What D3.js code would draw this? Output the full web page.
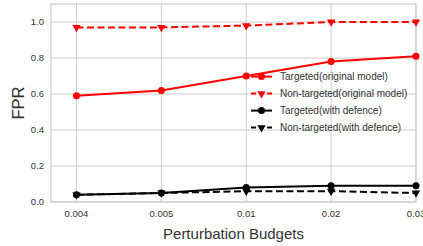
<!DOCTYPE html>
<html>
<head>
<meta charset="utf-8">
<script src="https://cdn.jsdelivr.net/npm/d3@7"></script>
<style>
  html, body { margin: 0; padding: 0; background: #fff; }
  text { font-family: "Liberation Sans", Arial, sans-serif; }
</style>
</head>
<body>
<script>
const budgets = ['0.004', '0.005', '0.01', '0.02', '0.03'];
const yTicks = [0.0, 0.2, 0.4, 0.6, 0.8, 1.0];

const targetedOriginal = [0.59, 0.62, 0.70, 0.78, 0.81];
const nonTargetedOriginal = [0.97, 0.97, 0.98, 1.0, 1.0];
const targetedDefence = [0.04, 0.05, 0.08, 0.09, 0.09];
const nonTargetedDefence = [0.04, 0.05, 0.06, 0.06, 0.05];

const seriesNames = [
  'Targeted(original model)',
  'Non-targeted(original model)',
  'Targeted(with defence)',
  'Non-targeted(with defence)'
];

let series = [
  { name: seriesNames[0], values: targetedOriginal, color: '#ff0000', dash: null, marker: 'circle' },
  { name: seriesNames[1], values: nonTargetedOriginal, color: '#ff0000', dash: '7,3.5', marker: 'tri' },
  { name: seriesNames[2], values: targetedDefence, color: '#000000', dash: null, marker: 'circle' },
  { name: seriesNames[3], values: nonTargetedDefence, color: '#000000', dash: '7,3.5', marker: 'tri' }
];

let width = 423;
let height = 246;
let margin = { left: 51, right: 7, top: 4, bottom: 44 };

let svg = d3.select('body')
  .append('svg')
  .attr('width', width)
  .attr('height', height);

// index based x scale, matplotlib-like limits
let x = d3.scaleLinear()
  .domain([-0.3, 4])
  .range([margin.left, width - margin.right]);

let y = d3.scaleLinear()
  .domain([0, 1.1])
  .range([height - margin.bottom, margin.top]);

// grid
svg.append('g')
  .selectAll('line')
  .data(yTicks)
  .enter()
  .append('line')
  .attr('x1', margin.left)
  .attr('x2', width - margin.right)
  .attr('y1', d => y(d))
  .attr('y2', d => y(d))
  .attr('stroke', '#cccccc')
  .attr('stroke-width', 1);

svg.append('g')
  .selectAll('line')
  .data(budgets)
  .enter()
  .append('line')
  .attr('x1', (d, i) => x(i))
  .attr('x2', (d, i) => x(i))
  .attr('y1', margin.top)
  .attr('y2', height - margin.bottom)
  .attr('stroke', '#cccccc')
  .attr('stroke-width', 1);

// frame
svg.append('rect')
  .attr('x', margin.left)
  .attr('y', margin.top)
  .attr('width', width - margin.left - margin.right)
  .attr('height', height - margin.top - margin.bottom)
  .attr('fill', 'none')
  .attr('stroke', '#cccccc')
  .attr('stroke-width', 1.2);

// tick labels
svg.append('g')
  .selectAll('text')
  .data(yTicks)
  .enter()
  .append('text')
  .attr('x', margin.left - 7)
  .attr('y', d => y(d))
  .attr('dy', '0.35em')
  .attr('text-anchor', 'end')
  .attr('font-size', 9.5)
  .attr('fill', '#333')
  .text(d => d.toFixed(1));

svg.append('g')
  .selectAll('text')
  .data(budgets)
  .enter()
  .append('text')
  .attr('x', (d, i) => x(i))
  .attr('y', 217.3)
  .attr('text-anchor', 'middle')
  .attr('font-size', 9.5)
  .attr('fill', '#333')
  .text(d => d);

// axis titles
svg.append('text')
  .attr('x', (margin.left + width - margin.right) / 2)
  .attr('y', 239)
  .attr('text-anchor', 'middle')
  .attr('font-size', 15)
  .attr('fill', '#333')
  .text('Perturbation Budgets');

svg.append('text')
  .attr('transform', `translate(23.5, ${(margin.top + height - margin.bottom) / 2}) rotate(-90)`)
  .attr('text-anchor', 'middle')
  .attr('font-size', 16.5)
  .attr('fill', '#333')
  .text('FPR');

let line = d3.line()
  .x((d, i) => x(i))
  .y(d => y(d));

const tri = d3.symbol().type(d3.symbolTriangle).size(30);

function drawMarker(g, type, color, cx, cy) {
  if (type === 'circle') {
    g.append('circle')
      .attr('cx', cx)
      .attr('cy', cy)
      .attr('r', 3.5)
      .attr('fill', color);
  } else {
    g.append('path')
      .attr('d', tri())
      .attr('transform', `translate(${cx}, ${cy}) rotate(180)`)
      .attr('fill', color);
  }
}

// lines and markers
series.forEach(s => {
  let g = svg.append('g');
  g.append('path')
    .datum(s.values)
    .attr('d', line)
    .attr('fill', 'none')
    .attr('stroke', s.color)
    .attr('stroke-width', 2)
    .attr('stroke-dasharray', s.dash);
  s.values.forEach((v, i) => drawMarker(g, s.marker, s.color, x(i), y(v)));
});

// legend
let legendX = 251;
let legendY = 76.6;
let rowGap = 17;

let legend = svg.append('g')
  .selectAll('g')
  .data(series)
  .enter()
  .append('g')
  .attr('transform', (d, i) => `translate(${legendX}, ${legendY + i * rowGap})`);

legend.append('line')
  .attr('x1', 0)
  .attr('x2', 21)
  .attr('y1', 0)
  .attr('y2', 0)
  .attr('stroke', d => d.color)
  .attr('stroke-width', 2)
  .attr('stroke-dasharray', d => d.dash ? '5,3' : null);

legend.each(function (d) {
  drawMarker(d3.select(this), d.marker, d.color, 10.5, 0);
});

legend.append('text')
  .attr('x', 29)
  .attr('y', 0)
  .attr('dy', '0.35em')
  .attr('font-size', 10)
  .attr('fill', '#333')
  .text(d => d.name);
</script>
</body>
</html>
